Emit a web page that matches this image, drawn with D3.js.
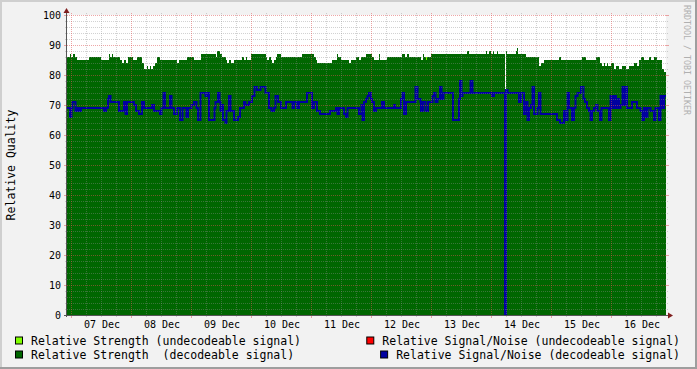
<!DOCTYPE html>
<html><head><meta charset="utf-8">
<script src="https://cdn.jsdelivr.net/npm/d3@7"></script>
<style>html,body{margin:0;padding:0;background:#F2F2F2;} svg{display:block;}</style>
</head><body><svg id="c" width="697" height="369"></svg>
<script>
// ---------------- data ----------------
const referenceMidnight = new Date(2008, 11, 7, 0, 0); // 07 Dec 00:00
const windowHours = [-1.8, 237.8];                     // hours relative to 07 Dec 00:00

// Relative Strength (decodeable) : step change points (hours, value)
const strengthHours = [-1.8,-0.6,-0.2,0.6,1.4,2.2,7.0,11.8,15.0,15.4,16.2,16.6,19.4,20.2,21.0,21.8,22.6,24.6,26.2,28.2,29.0,30.2,30.6,31.4,31.8,32.6,33.4,34.2,35.4,42.2,43.0,46.2,49.0,51.8,57.8,58.2,59.4,60.2,61.8,62.2,63.0,63.8,65.0,68.2,69.0,69.8,70.2,71.8,77.8,78.2,79.0,79.8,80.2,81.0,81.8,82.2,83.8,92.2,97.0,97.8,98.2,104.2,106.2,106.6,107.8,111.0,111.8,113.8,115.0,115.8,117.8,120.2,121.0,123.0,123.4,126.2,132.2,133.4,134.2,135.0,139.8,140.6,141.0,141.8,142.2,143.8,158.2,159.0,165.8,166.2,167.0,167.8,168.6,169.0,170.2,170.6,173.4,173.8,174.2,177.8,178.2,178.6,181.8,187.0,187.8,189.0,195.0,195.8,204.2,205.8,209.8,211.4,212.2,213.0,213.4,214.2,214.6,215.8,217.0,217.8,219.0,220.2,221.8,223.0,225.0,226.2,227.0,227.8,229.0,231.0,231.8,233.0,234.2,236.2,237.0];
const strengthValues = [86,87,86,87,86,85,86,85,87,86,87,86,85,84,85,84,86,85,86,84,82,83,82,83,82,83,84,86,85,84,85,86,85,87,86,88,87,86,85,84,85,84,85,86,85,86,85,87,86,85,86,85,84,85,86,87,86,87,86,85,84,85,87,86,85,84,85,86,85,86,87,86,85,87,85,86,87,86,87,86,85,87,86,85,86,87,88,87,88,87,88,87,88,87,88,87,75,88,87,88,89,87,86,83,84,85,86,85,86,85,86,84,83,84,83,84,83,84,82,83,82,83,82,83,84,83,85,86,85,86,85,86,85,82,81];

// Relative Strength (undecodeable), stacked on top
const undecodeableHours = [141.8, 142.2];
const undecodeableValues = [1, 0];

// Relative Signal/Noise (decodeable) : step change points (hours, value)
const snrHours = [-1.8,-0.6,0.0,0.4,1.6,2.2,3.0,3.8,13.0,13.8,14.6,15.0,15.6,19.0,21.0,21.6,22.2,25.0,25.8,27.0,28.2,29.0,32.2,33.0,35.4,36.0,36.8,37.4,39.4,40.0,41.0,42.2,43.4,44.4,46.0,46.6,48.0,49.0,50.0,50.6,51.6,53.6,54.2,55.0,57.2,57.6,58.6,59.2,59.6,60.0,60.6,61.6,62.0,63.0,63.6,65.0,66.6,67.4,69.0,69.6,71.0,72.2,73.2,74.2,75.6,77.6,79.0,80.0,81.0,81.6,82.6,83.8,85.8,88.4,89.0,90.2,91.0,94.2,96.2,97.0,98.2,99.4,103.4,105.8,106.4,107.0,109.0,109.8,110.4,115.0,116.0,116.4,117.0,117.8,118.4,119.0,119.8,120.2,121.0,121.8,124.2,125.0,129.0,129.4,131.8,132.4,133.0,133.8,137.6,138.4,139.6,139.8,140.6,141.6,142.6,144.4,145.0,145.6,146.4,147.4,148.0,148.8,152.6,155.0,155.4,156.0,156.4,159.6,160.4,168.2,169.0,173.4,173.8,174.4,179.0,179.8,181.0,181.6,182.4,183.0,183.8,184.4,185.0,186.4,187.0,187.6,194.2,195.4,197.0,197.6,198.4,199.0,200.2,201.0,201.6,202.4,203.8,204.8,205.4,206.2,207.0,207.6,208.2,209.0,209.8,210.4,211.4,212.0,215.0,215.6,216.4,217.0,217.8,218.4,219.0,219.6,220.4,221.0,221.6,222.2,224.2,226.2,227.6,228.4,229.0,229.6,230.4,231.6,233.0,233.6,235.0,235.6,236.2,237.0];
const snrValues = [69,66,69,71,68,69,68,69,68,69,72,73,71,68,71,67,71,70,68,67,71,69,70,68,67,69,74,69,73,69,67,69,65,69,66,69,70,71,69,65,74,73,74,65,69,71,74,71,68,70,65,64,68,73,68,65,66,69,71,70,71,73,76,75,76,74,69,68,69,73,71,69,71,69,71,69,71,74,69,71,68,67,68,69,67,69,67,66,69,67,70,65,71,72,73,74,72,71,68,69,71,69,70,69,72,74,67,71,76,72,71,68,71,68,71,73,74,71,72,76,72,74,65,72,78,73,74,78,74,73,74,0,75,74,71,74,67,71,65,69,70,76,67,69,74,67,65,64,68,65,74,69,65,69,73,74,76,72,71,69,68,65,68,69,70,68,65,69,65,73,69,73,69,72,69,70,76,70,76,69,71,69,68,65,69,66,69,68,65,69,65,73,69,73];

const yTickValues = [0,10,20,30,40,50,60,70,80,90,100];
const legendLeft = ["Relative Strength (undecodeable signal)", "Relative Strength  (decodeable signal)"];
const legendRight = ["Relative Signal/Noise (undecodeable signal)", "Relative Signal/Noise (decodeable signal)"];
const yTitle = "Relative Quality";
const watermark = "RRDTOOL / TOBI OETIKER";

// ---------------- drawing ----------------
const W = 697, H = 369;
const X0 = 67, X1 = 666, Y0 = 315, Y1 = 15;
const FONT = "'DejaVu Sans Mono', monospace";
const C = {
  back: "#F2F2F2", canvas: "#FFFFFF", shadeA: "#CFCFCF", shadeB: "#9E9E9E",
  grid: "rgba(143,143,143,0.4)", mgrid: "rgba(222,79,79,0.5)",
  arrow: "#801F1F", axis: "#555555",
  strength: "#006600", undec: "#80FF00", snr: "#0000A0", snrUndec: "#FF0000"
};
const at = h => new Date(+referenceMidnight + h * 3600e3);
const svg = d3.select("#c");

const x = d3.scaleTime().domain([at(windowHours[0]), at(windowHours[1])]).range([X0, X1]);
const y = d3.scaleLinear().domain([0, 100]).range([Y0, Y1]);

function steps(hours, values) {
  const pts = hours.map((h, i) => ({t: at(h), v: values[i]}));
  pts.push({t: at(windowHours[1]), v: values[values.length - 1]});
  return pts;
}

// background + frame
svg.append("rect").attr("width", W).attr("height", H).attr("fill", C.back);
svg.append("path").attr("fill", C.shadeA).attr("d", `M0,0H${W}V2H2V${H}H0Z`);
svg.append("path").attr("fill", C.shadeB).attr("d", `M${W},${H}H0V${H-2}H${W-2}V0H${W}Z`);
svg.append("rect").attr("x", X0).attr("y", Y1).attr("width", X1 - X0).attr("height", Y0 - Y1).attr("fill", C.canvas);

// strength area
const strength = steps(strengthHours, strengthValues);
svg.append("path").datum(strength)
  .attr("fill", C.strength)
  .attr("d", d3.area().curve(d3.curveStepAfter).x(d => x(d.t)).y0(y(0)).y1(d => y(d.v)));

// undecodeable stacked on top
const strengthAt = t => { const i = d3.bisector(d => d.t).right(strength, t) - 1; return strength[Math.max(0, i)].v; };
const und = steps(undecodeableHours, undecodeableValues);
for (let i = 0; i < und.length - 1; i++) {
  if (und[i].v <= 0) continue;
  const base = strengthAt(und[i].t);
  svg.append("rect").attr("fill", C.undec)
    .attr("x", x(und[i].t)).attr("width", x(und[i + 1].t) - x(und[i].t))
    .attr("y", y(base + und[i].v)).attr("height", y(base) - y(base + und[i].v));
}

// S/N line
svg.append("path").datum(steps(snrHours, snrValues))
  .attr("fill", "none").attr("stroke", C.snr).attr("stroke-width", 2)
  .attr("d", d3.line().curve(d3.curveStepAfter).x(d => x(d.t)).y(d => y(d.v)));

// grid (on top, dotted)
const g = svg.append("g");
const minorY = d3.range(0, 101, 2).filter(v => v % 10 !== 0);
minorY.forEach(v => {
  const yy = Math.round(y(v)) + 0.5;
  g.append("line").attr("x1", X0 - 2).attr("x2", X1 + 2).attr("y1", yy).attr("y2", yy)
    .attr("stroke", C.grid).attr("stroke-dasharray", "1,1");
});
yTickValues.forEach(v => {
  const yy = Math.round(y(v)) + 0.5;
  g.append("line").attr("x1", X0).attr("x2", X1).attr("y1", yy).attr("y2", yy)
    .attr("stroke", C.mgrid).attr("stroke-dasharray", "1,1");
  g.append("line").attr("x1", X0 - 3).attr("x2", X0).attr("y1", yy).attr("y2", yy).attr("stroke", C.mgrid);
  g.append("line").attr("x1", X1).attr("x2", X1 + 3).attr("y1", yy).attr("y2", yy).attr("stroke", C.mgrid);
});
const t0 = at(windowHours[0]), t1 = at(windowHours[1]);
d3.timeHour.every(6).range(t0, t1).forEach(t => {
  const xx = Math.round(x(t) - 0.5) + 0.5;
  const major = t.getHours() === 0;
  g.append("line").attr("x1", xx).attr("x2", xx).attr("y1", Y1 - 2).attr("y2", Y0)
    .attr("stroke", major ? C.mgrid : C.grid).attr("stroke-dasharray", "1,1");
  g.append("line").attr("x1", xx).attr("x2", xx).attr("y1", Y0).attr("y2", Y0 + (major ? 3 : 2))
    .attr("stroke", major ? C.mgrid : C.grid);
});

// axes
svg.append("line").attr("x1", X0 - 0.5).attr("x2", X0 - 0.5).attr("y1", Y0 + 2).attr("y2", Y1 - 3)
  .attr("stroke", C.axis);
svg.append("line").attr("x1", X0 - 3).attr("x2", X1 + 3).attr("y1", Y0 + 0.5).attr("y2", Y0 + 0.5)
  .attr("stroke", C.axis);
svg.append("path").attr("fill", C.arrow).attr("d", `M${X0-3.5},${Y1-2}L${X0+2.5},${Y1-2}L${X0-0.5},${Y1-7}Z`);
svg.append("path").attr("fill", C.arrow).attr("d", `M${X1+2},${Y0-2.5}L${X1+2},${Y0+3.5}L${X1+7},${Y0+0.5}Z`);

// y labels
const yAxis = d3.axisLeft(y).tickValues(yTickValues).tickSize(0).tickPadding(0).tickFormat(d3.format("d"));
const ya = svg.append("g").attr("transform", `translate(${X0 - 6},0)`).call(yAxis);
ya.select(".domain").remove();
ya.selectAll("text").attr("font-family", FONT).attr("font-size", "10px").attr("fill", "#000").attr("dy", "0.35em");

// x labels (centred at noon)
const noons = d3.timeDay.range(d3.timeDay.ceil(t0), t1).map(d => d3.timeHour.offset(d, 12)).filter(d => d < t1);
const xAxis = d3.axisBottom(x).tickValues(noons).tickSize(0).tickPadding(0).tickFormat(d3.timeFormat("%d %b"));
const xa = svg.append("g").attr("transform", `translate(0,${Y0 + 6})`).call(xAxis);
xa.select(".domain").remove();
xa.selectAll("text").attr("font-family", FONT).attr("font-size", "10px").attr("fill", "#000").attr("dy", "0.71em");

// y title
svg.append("text").attr("transform", `translate(15,${(Y0 + Y1) / 2}) rotate(-90)`)
  .attr("text-anchor", "middle").attr("font-family", FONT).attr("font-size", "11.5px").text(yTitle);

// watermark
svg.append("text").attr("transform", `translate(684,5) rotate(90)`)
  .attr("font-family", FONT).attr("font-size", "8.3px").attr("fill", "#B0B0B0").text(watermark);

// legend
function legendItem(label, color, xText, baseline, anchor) {
  const t = svg.append("text").attr("x", xText).attr("y", baseline).attr("text-anchor", anchor)
    .attr("font-family", FONT).attr("font-size", "11.5px").attr("fill", "#000").attr("xml:space", "preserve")
    .style("white-space", "pre").text(label);
  const w = t.node().getComputedTextLength();
  const start = anchor === "end" ? xText - w : xText;
  svg.append("rect").attr("x", start - 15.5).attr("y", baseline - 7.5).attr("width", 7).attr("height", 7)
    .attr("fill", color).attr("stroke", "#000").attr("stroke-width", 1);
}
legendItem(legendLeft[0], C.undec, 31, 344.5, "start");
legendItem(legendLeft[1], C.strength, 31, 358.5, "start");
legendItem(legendRight[0], C.snrUndec, 680, 344.5, "end");
legendItem(legendRight[1], C.snr, 680, 358.5, "end");
</script></body></html>
